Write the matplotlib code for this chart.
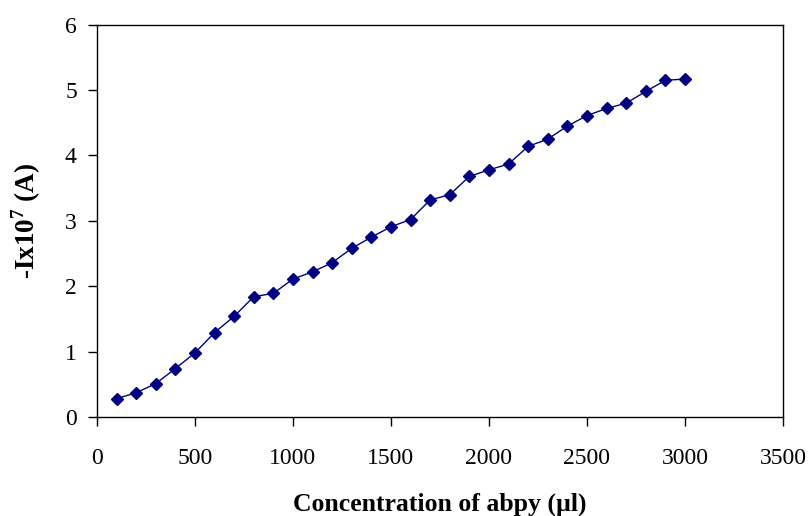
import numpy as np
import matplotlib
matplotlib.use('Agg')
import matplotlib.pyplot as plt

plt.rcParams['font.family'] = ['Liberation Serif', 'DejaVu Serif']
plt.rcParams['mathtext.fontset'] = 'custom'
plt.rcParams['mathtext.rm'] = 'Liberation Serif:bold'
plt.rcParams['mathtext.bf'] = 'Liberation Serif:bold'

# concentration of abpy (ul) and measured current
conc = [100, 200, 300, 400, 500, 600, 700, 800, 900, 1000,
        1100, 1200, 1300, 1400, 1500, 1600, 1700, 1800, 1900, 2000,
        2100, 2200, 2300, 2400, 2500, 2600, 2700, 2800, 2900, 3000]
current = [0.28, 0.37, 0.51, 0.74, 0.98, 1.29, 1.54, 1.84, 1.89, 2.11,
           2.22, 2.36, 2.58, 2.75, 2.91, 3.02, 3.32, 3.40, 3.68, 3.78,
           3.87, 4.14, 4.25, 4.45, 4.61, 4.72, 4.80, 4.98, 5.15, 5.17]

xticks = [0, 500, 1000, 1500, 2000, 2500, 3000, 3500]
yticks = [0, 1, 2, 3, 4, 5, 6]

fig = plt.figure(figsize=(8.08, 5.16), dpi=100)
ax = fig.add_axes([0.12, 0.192, 0.849, 0.76])

ax.plot(conc, current, color='#000080', lw=1.0, marker='D',
        markersize=6, markerfacecolor='#000080', markeredgecolor='#000080')

ax.set_xlim(0, 3500)
ax.set_ylim(0, 6)
ax.set_xticks(xticks)
ax.set_yticks(yticks)
ax.tick_params(direction='out', length=6.5, width=1, labelsize=17)
ax.tick_params(axis='x', pad=16)
ax.tick_params(axis='y', pad=8)

for s in ax.spines.values():
    s.set_linewidth(1)

ax.set_xlabel('Concentration of abpy (\u00b5l)', fontsize=18.5, fontweight='bold', labelpad=17)
ax.set_ylabel(r'-Ix10$^{7}$ (A)', fontsize=19.5, fontweight='bold', labelpad=16)

fig.savefig('out.png', dpi=100)
